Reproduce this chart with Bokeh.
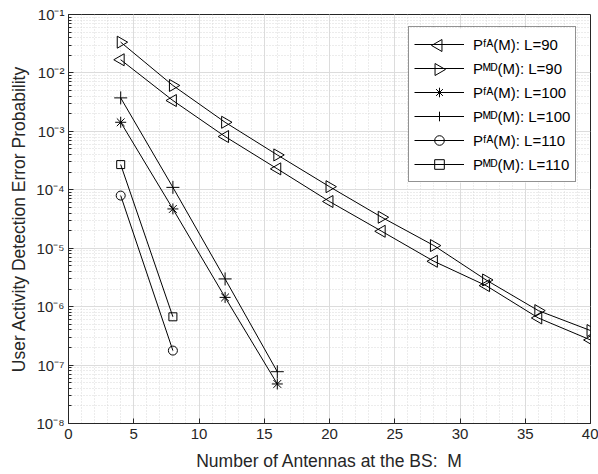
import math
from bokeh.plotting import figure
from bokeh.models import (FixedTicker, SingleIntervalTicker, Legend, LegendItem, Range1d)
from bokeh.embed import file_html
from bokeh.resources import INLINE

# ---- data ----
M_90 = [4, 8, 12, 16, 20, 24, 28, 32, 36, 40]
PFA_90 = [1.68e-2, 3.37e-3, 8.15e-4, 2.28e-4, 6.3e-5, 1.95e-5, 5.97e-6, 2.29e-6, 6.4e-7, 2.69e-7]
PMD_90 = [3.36e-2, 6.1e-3, 1.43e-3, 3.95e-4, 1.13e-4, 3.39e-5, 1.11e-5, 2.86e-6, 8.55e-7, 3.9e-7]
M_100 = [4, 8, 12, 16]
PFA_100 = [1.43e-3, 4.7e-5, 1.44e-6, 4.75e-8]
PMD_100 = [3.74e-3, 1.1e-4, 2.98e-6, 7.7e-8]
M_110 = [4, 8]
PFA_110 = [7.96e-5, 1.77e-7]
PMD_110 = [2.7e-4, 6.7e-7]

labels = ["P\u1da0\u1d2c(M): L=90", "P\u1d39\u1d30(M): L=90",
          "P\u1da0\u1d2c(M): L=100", "P\u1d39\u1d30(M): L=100",
          "P\u1da0\u1d2c(M): L=110", "P\u1d39\u1d30(M): L=110"]

y_decades = [1e-8, 1e-7, 1e-6, 1e-5, 1e-4, 1e-3, 1e-2, 1e-1]
y_tick_labels = ["10\u207b\u2078", "10\u207b\u2077", "10\u207b\u2076", "10\u207b\u2075",
                 "10\u207b\u2074", "10\u207b\u00b3", "10\u207b\u00b2", "10\u207b\u00b9"]

X_MIN, X_MAX = 0, 40
LOG_MIN, LOG_MAX = -8, -1

FONT = "Liberation Sans"
AX = "#262626"

W, H = 598, 474
BL, BR, BT, BB = 68, 8, 14, 51
FW, FH = W - BL - BR, H - BT - BB

p = figure(width=W, height=H, y_axis_type="log",
           x_range=Range1d(X_MIN, X_MAX), y_range=Range1d(10.0 ** LOG_MIN, 10.0 ** LOG_MAX),
           output_backend="svg", toolbar_location=None,
           min_border_left=BL, min_border_right=BR, min_border_top=BT, min_border_bottom=BB)
p.outline_line_color = AX

minor = [k * d for d in y_decades[:-1] for k in range(2, 10)]
yticker = FixedTicker(ticks=y_decades, minor_ticks=minor)
xticker = SingleIntervalTicker(interval=5, num_minor_ticks=5)

p.yaxis.ticker = yticker
p.xaxis.ticker = xticker
p.yaxis.major_label_overrides = {d: s for d, s in zip(y_decades, y_tick_labels)}

for ax in (p.xaxis[0], p.yaxis[0]):
    ax.axis_line_color = AX
    ax.major_tick_line_color = AX
    ax.minor_tick_line_color = AX
    ax.major_tick_in = 5
    ax.major_tick_out = 0
    ax.major_label_text_font = FONT
    ax.major_label_text_font_size = "15px"
    ax.major_label_text_color = AX
    ax.axis_label_text_font = FONT
    ax.axis_label_text_font_size = "17.5px"
    ax.axis_label_text_font_style = "normal"
    ax.axis_label_text_color = AX

p.xaxis.minor_tick_in = 0
p.xaxis.minor_tick_out = 0
p.yaxis.minor_tick_in = 3
p.yaxis.minor_tick_out = 0
p.xaxis.major_label_standoff = 5
p.yaxis.major_label_standoff = 4
p.xaxis.axis_label_standoff = 9
p.yaxis.axis_label_standoff = 4
p.xaxis.axis_label = "Number of Antennas at the BS:\u00a0 M"
p.yaxis.axis_label = "User Activity Detection Error Probability"

for g in (p.xgrid[0], p.ygrid[0]):
    g.grid_line_color = "#dcdcdc"
    g.minor_grid_line_color = "#d8d8d8"
    g.minor_grid_line_dash = "1 2"
p.xgrid.ticker = xticker
p.ygrid.ticker = yticker

series = [
    (M_90, PFA_90, dict(marker="triangle", angle=math.pi / 2, size=12), True),
    (M_90, PMD_90, dict(marker="triangle", angle=-math.pi / 2, size=12), True),
    (M_100, PFA_100, dict(marker="asterisk", size=11), False),
    (M_100, PMD_100, dict(marker="cross", size=13), False),
    (M_110, PFA_110, dict(marker="circle", size=9), False),
    (M_110, PMD_110, dict(marker="square", size=8), False),
]

# legend geometry (frame pixels, origin bottom-left)
PAD, GW, GH, MARG, STAND, LW = 5, 50, 24, 14, 9, 167
n_items = len(series)
leg_h = n_items * GH + 2 * PAD
leg_left = 340
leg_top = FH - MARG
leg_bottom = leg_top - leg_h


def to_x(px):
    return X_MIN + px / FW * (X_MAX - X_MIN)


def to_y(py):
    return 10.0 ** (LOG_MIN + py / FH * (LOG_MAX - LOG_MIN))


items = []
for (xs, ys, mk, rotated), lab in zip(series, labels):
    ln = p.line(xs, ys, line_color="black", line_width=1)
    sc = p.scatter(xs, ys, fill_color=None, line_color="black", line_width=1, **mk)
    items.append(LegendItem(label=lab, renderers=[ln] if rotated else [ln, sc]))

# white legend background (drawn over the data, under the legend itself)
p.quad(left=[to_x(leg_left)], right=[to_x(leg_left + LW)],
       bottom=[to_y(leg_bottom)], top=[to_y(leg_top)],
       fill_color="white", line_color=None)

# rotated triangle markers for the legend (Bokeh's legend ignores marker angle)
for i, (xs, ys, mk, rotated) in enumerate(series):
    if not rotated:
        continue
    cy = leg_top - PAD - i * GH - GH / 2
    cx = leg_left + PAD + GW / 2
    p.scatter([to_x(cx)], [to_y(cy)], fill_color=None, line_color="black",
              line_width=1, **mk)

legend = Legend(items=items, location=(leg_left, leg_bottom), padding=PAD, spacing=0,
                glyph_width=GW, glyph_height=GH, label_height=GH, label_standoff=STAND,
                label_text_font=FONT, label_text_font_size="15px", label_text_color="black",
                border_line_color=AX, border_line_width=1, background_fill_alpha=0)
p.add_layout(legend, "center")

open("out.html", "w").write(file_html(p, INLINE))
